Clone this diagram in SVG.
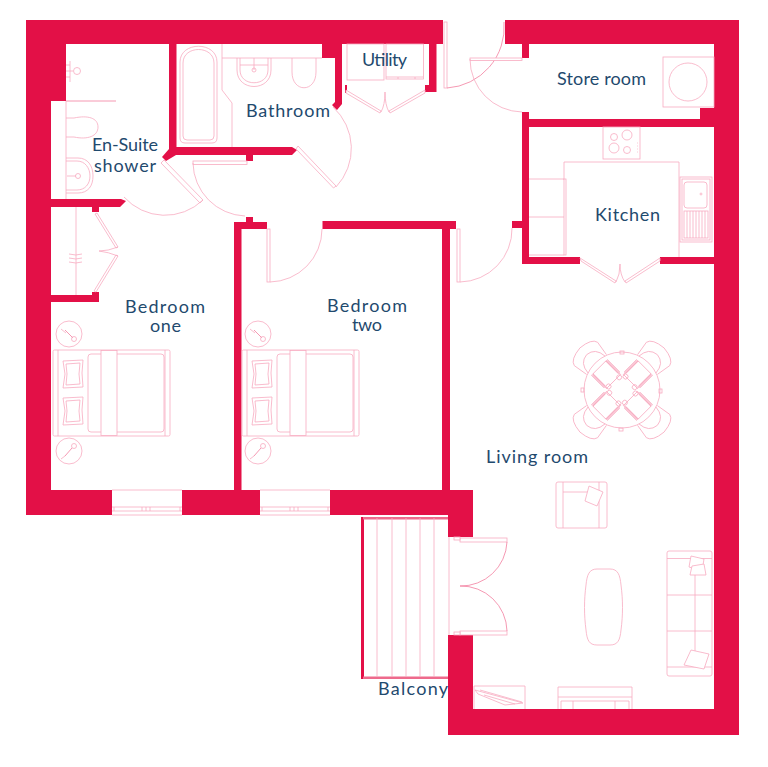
<svg xmlns="http://www.w3.org/2000/svg" xmlns:xlink="http://www.w3.org/1999/xlink" width="768" height="767" viewBox="0 0 768 767">
<style>
.w{fill:#e31047;stroke:none}
.l{fill:#fff;stroke:#f8abc0;stroke-width:.8}
.n{fill:none;stroke:#f8abc0;stroke-width:.8}
.d{fill:none;stroke:#f27f9f;stroke-width:.8}
.t{font-family:"Lato","Liberation Sans",sans-serif;font-size:18px;fill:#1f4a6e;text-anchor:start}
</style>
<defs>
<g id="bed">
<circle class="n" cx="69" cy="334" r="13"/><circle class="n" cx="69" cy="451" r="13"/>
<path class="d" d="M65 330L73 338" stroke-width="1.800"/><path class="n" d="M61 329L66 333"/><circle class="n" cx="74" cy="339" r="2.500"/>
<path class="d" d="M65 456L72 448" stroke-width="1.800"/><path class="n" d="M61 459L65 456"/><circle class="n" cx="74" cy="446" r="2.500"/>
<rect class="n" x="53" y="350" width="117" height="86" rx="1.500"/>
<path class="n" d="M58 350V436M165 350V436"/>
<rect class="n" x="88" y="354" width="76" height="78" rx="3"/>
<rect class="l" x="101" y="350.500" width="16" height="85"/>
<path class="n" d="M63 361L83 360L82 373L83 387L63 388L65 374ZM66 364L80 363L79 374L80 384L66 385L67 374Z"/>
<path class="n" d="M63 398L83 397L82 410L83 424L63 425L65 411ZM66 401L80 400L79 411L80 421L66 422L67 411Z"/>
</g>
<g id="window">
<rect x="0" y="0" width="70" height="25.500" fill="#fff"/>
<path class="n" d="M0 0H70M0 17H70M0 25H70M0 21H70M2 17V21M30 17V21M34 17V21M38 17V21M68 17V21"/>
</g>
<g id="chair">
<path class="l" d="M-14 -36L-16.500 -51Q-15 -58 0 -59.500Q15 -58 16.500 -51L14 -36"/>
<path class="n" d="M-12 -36Q-11 -49 0 -50Q11 -49 12 -36"/>
</g>
<g id="mat">
<rect class="n" x="-10" y="-32" width="20" height="20"/>
<path class="d" d="M-9 -32V-14M-11 -32V-14M9 -32V-14M11 -32V-14"/>
<circle class="n" cx="-7" cy="-12" r="2.500"/><circle class="n" cx="7" cy="-11" r="2.500"/>
</g>
</defs>
<rect width="768" height="767" fill="#fff"/>
<g id="walls">
<path class="w" d="M26 20H443V44H342V93H345V85H347V93H342V104L337 110L332 105L335 102V58H322V44H176.500V147H292L297 150L292 155H253V161H246V155H176L166 161L162 157L169 149V44H66V101H51V199H121L126 201L120 207H99V212H92V207H51V295H92V292H99V302H51V490H234V222H246V217H253V222H267V229H241.500V490H442V229H322.500V221H456V229H450V490H473V537H448V515H26Z"/>
<path class="w" d="M429 44H436.500V92H425V85H429Z"/>
<path class="w" d="M505 20H739V735H448V635H473V709H714V264H660V257H714V127H529V257H580V264H522V228H512V221H522V112H529V119H700V108H714V44H529V58H522V44H505Z"/>
</g>
<g id="doors">
<path class="l" d="M164 160L203 200L200 203L161 163Z"/>
<path class="n" d="M203 200A55 55 0 0 1 124 197"/>
<path class="l" d="M298 146L336 186L333.500 188L296 149Z"/>
<path class="n" d="M336 187A56 56 0 0 0 333 107"/>
<rect class="l" x="193" y="161" width="54" height="3.500"/>
<path class="n" d="M193 163A54 54 0 0 0 245 216"/>
<rect class="l" x="267" y="229" width="3" height="53"/>
<path class="n" d="M270 282A53 53 0 0 0 322 229"/>
<rect class="l" x="457" y="229" width="3" height="53"/>
<path class="n" d="M460 282A53 53 0 0 0 512 228"/>
<rect class="l" x="444" y="22" width="3" height="66"/>
<path class="d" d="M447 88A61 61 0 0 0 504 22"/>
<rect class="l" x="470" y="58" width="52" height="2.500"/>
<path class="n" d="M470 59A53 53 0 0 0 522 112"/>
<path class="l" d="M346 90L381 111L380 113L346 93Z"/>
<path class="l" d="M425 90L389 111L390 113L425 93Z"/>
<path class="n" d="M381 112Q385 105 385 92Q385 105 389 112"/>
<rect class="n" x="347" y="44" width="37" height="36"/>
<rect class="n" x="386" y="44" width="37.500" height="35"/>
<path class="n" d="M386 77H423M398 77V79M415 77V79"/>
<path class="l" d="M97 213L118 247L116 248L95 214Z"/>
<path class="l" d="M118 256L96 292L94 291L116 255Z"/>
<path class="n" d="M118 247Q108 251 99 251Q108 252 118 256"/>
<path class="n" d="M76 207V295M69 254Q76 256 82 254M69 258Q76 260 82 258M69 262Q76 264 82 262"/>
<path class="l" d="M580 258L616 281L615 283L581 261Z"/>
<path class="l" d="M660 258L625 281L626 283L660 261Z"/>
<path class="n" d="M616 282Q620 275 620 264Q620 275 625 282"/>
<rect class="l" x="460" y="538" width="47" height="4"/>
<rect class="l" x="460" y="631" width="47" height="4"/>
<rect class="l" x="454" y="537" width="6" height="3"/>
<rect class="l" x="454" y="632" width="6" height="3"/>
<path class="d" d="M507 542A46 46 0 0 1 460 586A46 46 0 0 1 507 631"/>
<path class="n" d="M449 537V635"/>
</g>
<g id="windows">
<use xlink:href="#window" href="#window" x="112" y="490"/>
<use xlink:href="#window" href="#window" x="260" y="490"/>
</g>
<g id="balcony">
<rect x="361" y="517" width="3" height="162" fill="#e31047"/>
<rect x="363" y="517" width="85" height="2.500" fill="#ee6a8c"/>
<rect x="363" y="676.500" width="85" height="2.500" fill="#ee6a8c"/>
<path class="n" d="M377 518V677M392 518V677M406 518V677M420 518V677M434 518V677"/>
</g>
<g id="ensuite-fixtures">
<path class="d" d="M66 101H116"/>
<path class="n" d="M66 101V199M70 61V82M66 65H70M66 71H73M66 77H70"/>
<circle class="n" cx="77" cy="71" r="3.500"/>
<path class="n" d="M66 118H74C88 115 98 118 98 127C98 136 88 140 74 137H66"/>
<path class="n" d="M66 158H78C88 158 93 166 93 176C93 186 88 193 78 193H66M66 161H77C85 161 90 168 90 176C90 184 85 190 77 190H66"/>
<circle class="n" cx="78" cy="176" r="2.500"/><path class="n" d="M67 176H76"/>
</g>
<g id="bathroom-fixtures">
<path class="n" d="M180 62C180 41 217 41 217 62V138Q217 143 212 143H185Q180 143 180 138Z"/>
<path class="n" d="M183 63C183 45 214 45 214 63V136Q214 140 210 140H187Q183 140 183 136Z"/>
<path class="n" d="M222 44V90L232 103V147M222 58H322"/>
<path class="n" d="M237 58V70C237 92 271 92 271 70V58M240 58V70C240 87 268 87 268 70V58"/>
<path class="n" d="M240 65H268M254 58V70"/><circle class="n" cx="254" cy="70" r="2"/>
<path class="n" d="M292 58V72C292 93 316 93 316 72V58"/>
</g>
<g id="store-fixtures">
<rect class="n" x="663" y="57" width="51" height="50"/>
<circle class="n" cx="688" cy="82" r="19"/>
</g>
<g id="kitchen-fixtures">
<rect class="n" x="603" y="127" width="37" height="32"/>
<circle class="n" cx="614" cy="137" r="3.500"/><circle class="n" cx="627" cy="135" r="5"/>
<circle class="n" cx="614" cy="148" r="5"/><circle class="n" cx="627" cy="150" r="3.500"/>
<path class="n" d="M637 143h.8M637 146h.8M637 149h.8M637 152h.8" stroke-width="2"/>
<path class="n" d="M564 180V162H679V257"/>
<path class="n" d="M529 179H564M529 217H565M529 255H564"/>
<rect class="l" x="564" y="179" width="2" height="76"/>
<rect class="n" x="680" y="177" width="32" height="65"/>
<rect class="n" x="682" y="179" width="28" height="61"/>
<rect class="n" x="684" y="182" width="23" height="26" rx="3"/>
<circle class="n" cx="701" cy="194" r="1"/>
<rect class="n" x="684" y="211" width="24" height="27"/>
<path class="n" d="M687 211V238M690 211V238M693 211V238M696 211V238M699 211V238M702 211V238M705 211V238"/>
</g>
<g id="bedroom-one-furniture"><use xlink:href="#bed" href="#bed"/></g>
<g id="bedroom-two-furniture"><use xlink:href="#bed" href="#bed" x="189"/></g>
<g id="dining">
<use xlink:href="#chair" href="#chair" transform="translate(622 390) rotate(-45)"/>
<use xlink:href="#chair" href="#chair" transform="translate(622 390) rotate(45)"/>
<use xlink:href="#chair" href="#chair" transform="translate(622 390) rotate(135)"/>
<use xlink:href="#chair" href="#chair" transform="translate(622 390) rotate(-135)"/>
<circle class="l" cx="622" cy="390" r="38"/>
<use xlink:href="#mat" href="#mat" transform="translate(622 390) rotate(-45)"/>
<use xlink:href="#mat" href="#mat" transform="translate(622 390) rotate(45)"/>
<use xlink:href="#mat" href="#mat" transform="translate(622 390) rotate(135)"/>
<use xlink:href="#mat" href="#mat" transform="translate(622 390) rotate(-135)"/>
<rect class="n" x="620" y="351" width="4" height="3"/><rect class="n" x="619" y="428" width="4" height="3"/>
<rect class="n" x="581" y="388" width="3" height="4"/><rect class="n" x="659" y="389" width="3" height="4"/>
</g>
<g id="armchair">
<rect class="n" x="556" y="482" width="51" height="46" rx="2"/>
<path class="n" d="M563 482V528M599 482V528M563 492H599"/>
<path class="l" d="M589 486L603 492L597 506L585 501Z"/>
</g>
<g id="table">
<path class="n" d="M597 569H610C618 569 620 575 621 585C623 600 623 615 621 630C620 640 618 645 610 645H597C589 645 587 640 586 630C584 615 584 600 586 585C587 575 589 569 597 569Z"/>
</g>
<g id="sofa">
<rect class="n" x="667" y="551" width="45" height="125" rx="2"/>
<path class="n" d="M667 558.500H712M667 667H712M667 595H712M667 631H712M695 559V667"/>
<path class="l" d="M691 556L704 559L702 571L689 567Z"/>
<path class="l" d="M692 566L704 564L706 575L690 575Z"/>
<path class="l" d="M691 650L709 654L704 669L684 665Z"/>
</g>
<g id="tv-unit">
<path class="n" d="M558 709V687H632V709M558 697H632M561 709V701H629V709M573 701V709M615 701V709"/>
</g>
<g id="lamp">
<path class="n" d="M474 709V686H525V709"/>
<path class="n" d="M475 690L523 703L505 705L478 694ZM480 690L522 702M484 695L515 704"/>
</g>
<g id="labels">
<text class="t" x="362" y="66" textLength="45">Utility</text>
<text class="t" x="557" y="85" textLength="89">Store room</text>
<text class="t" x="246" y="117" textLength="84">Bathroom</text>
<text class="t" x="92" y="151" textLength="66">En-Suite</text>
<text class="t" x="94" y="172" textLength="62">shower</text>
<text class="t" x="595" y="220.500" textLength="65">Kitchen</text>
<text class="t" x="125" y="312.500" textLength="80">Bedroom</text>
<text class="t" x="150" y="332" textLength="31">one</text>
<text class="t" x="327" y="311.500" textLength="80">Bedroom</text>
<text class="t" x="352" y="331" textLength="30">two</text>
<text class="t" x="486" y="462.500" textLength="102">Living room</text>
<text class="t" x="378" y="694.500" textLength="70">Balcony</text>
</g>
</svg>
